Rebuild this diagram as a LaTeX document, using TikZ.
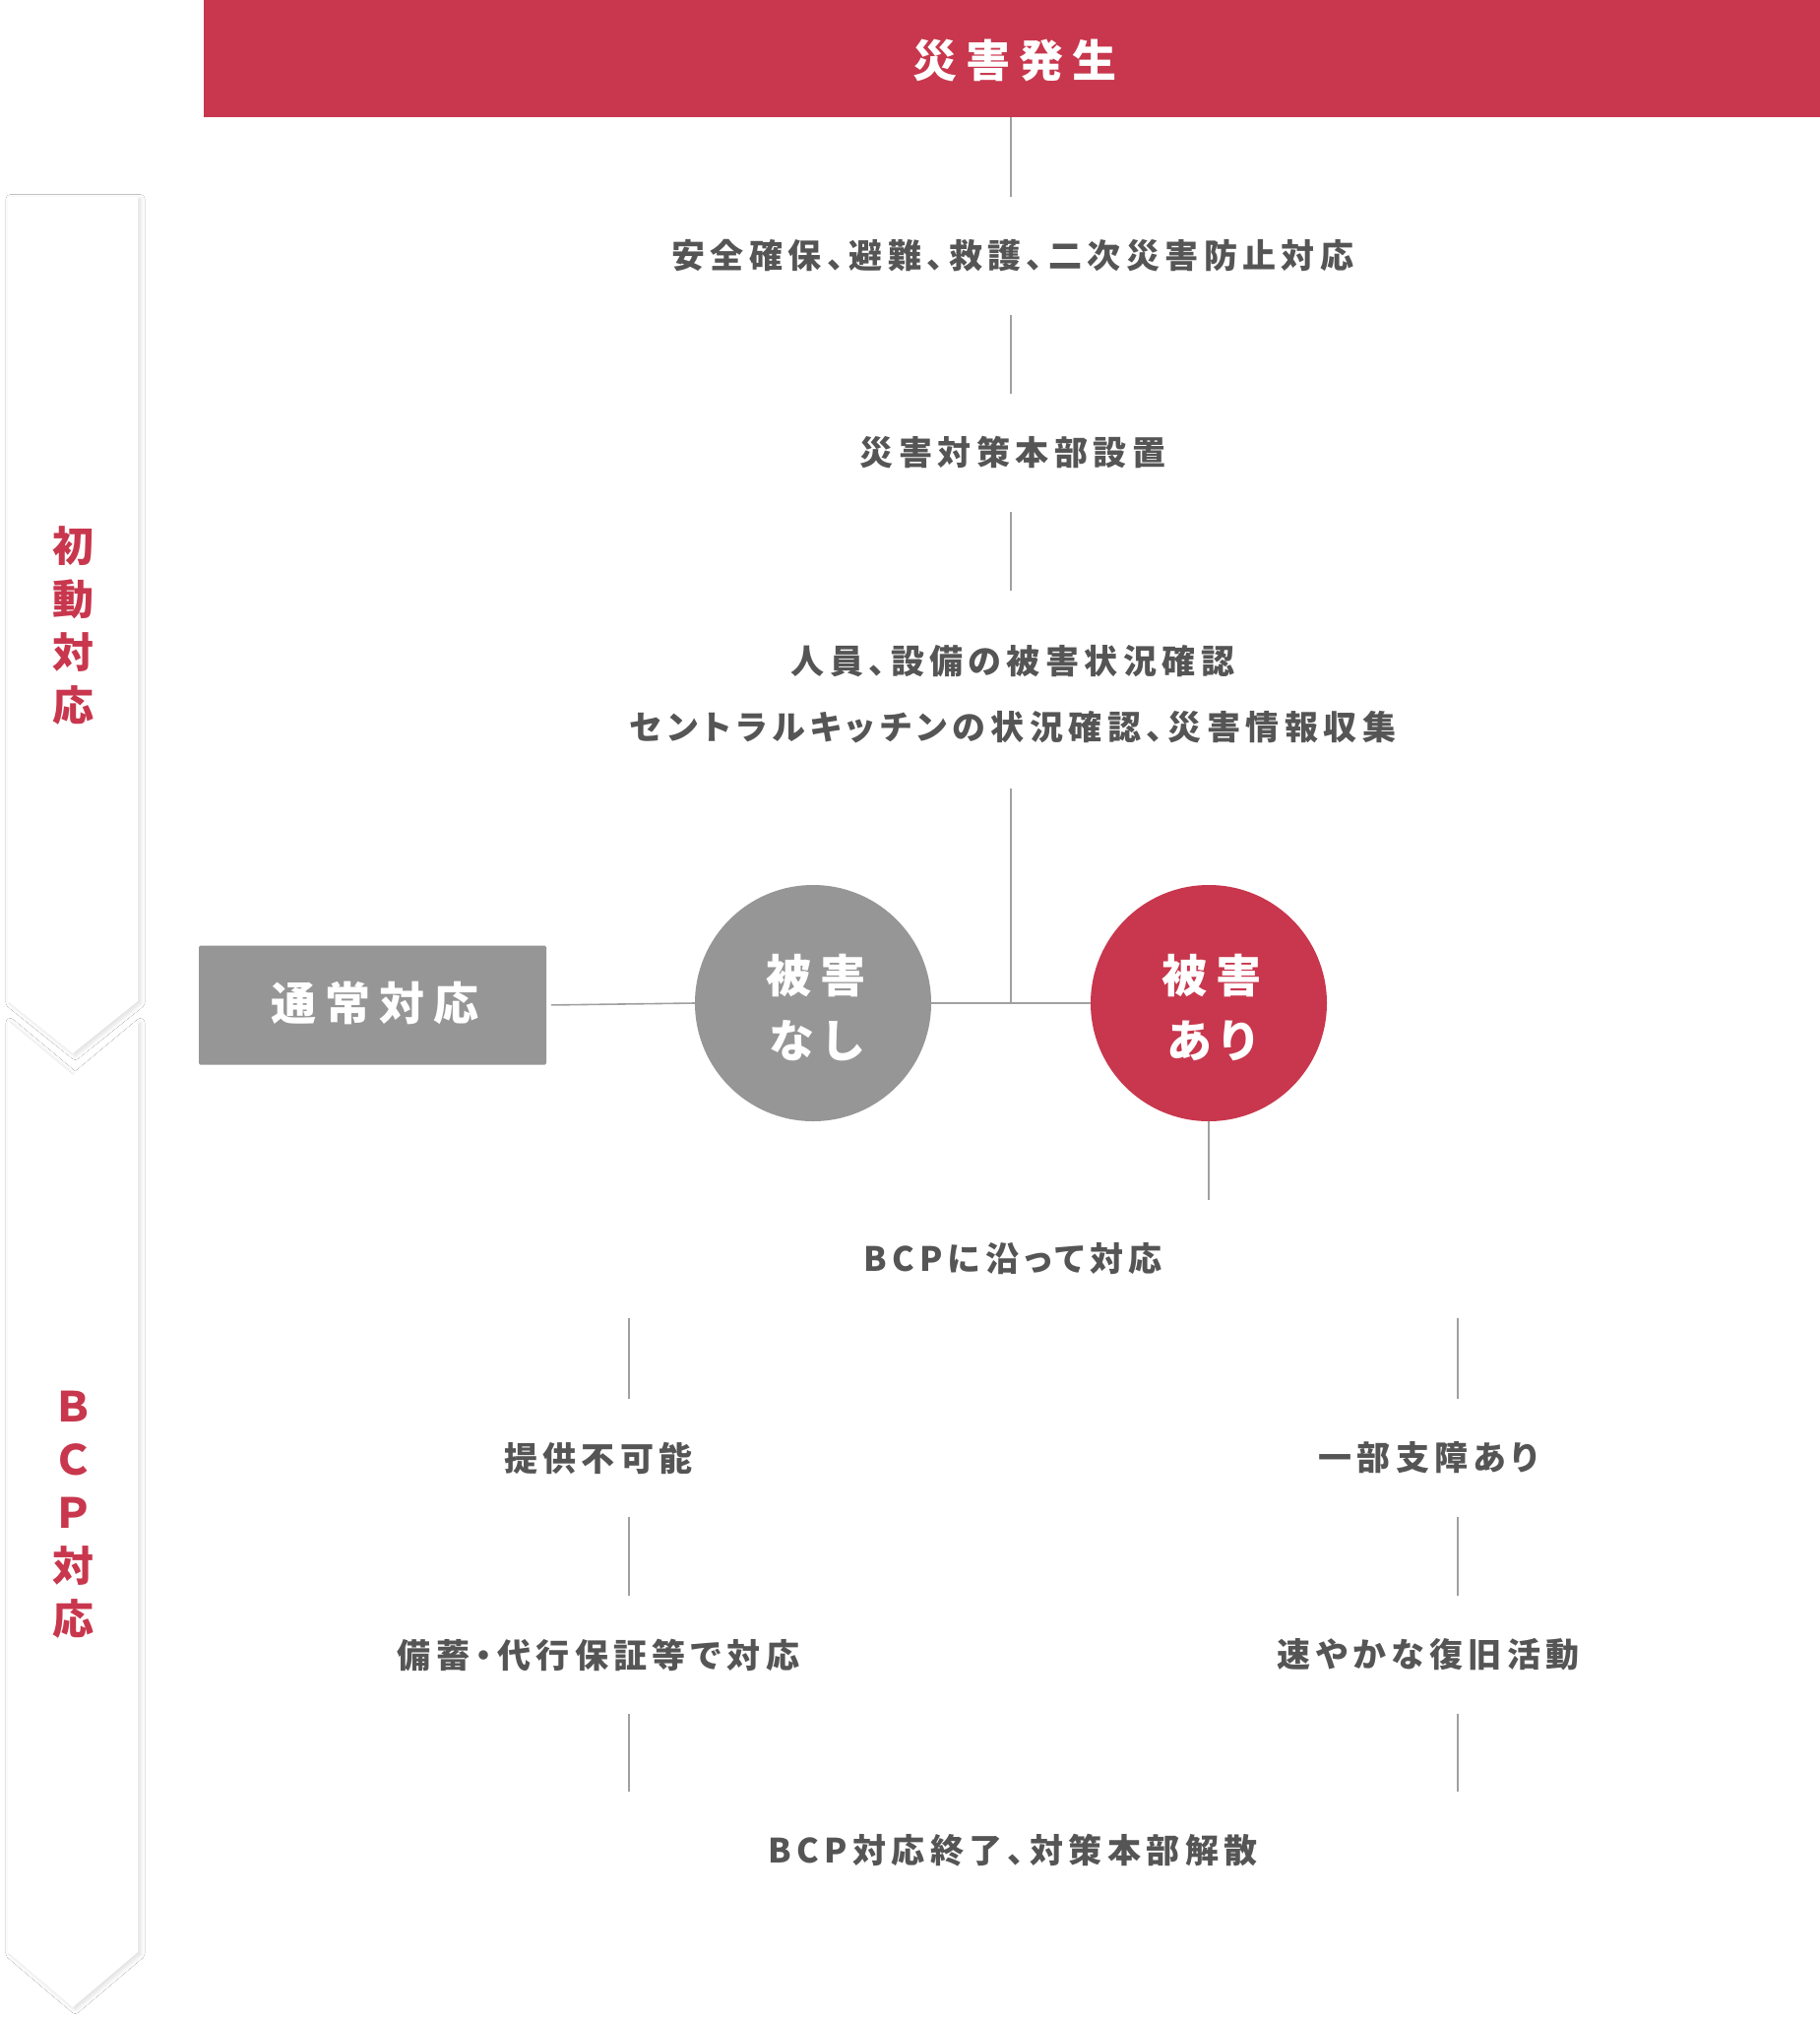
\documentclass[tikz,border=0pt]{standalone}
\usepackage{fontspec}
\newfontfamily\jp{Noto Sans CJK JP}[RawFeature=+palt, LetterSpace=16]
\newfontfamily\jpw{Noto Sans CJK JP}[RawFeature=+palt, LetterSpace=20]
\newfontfamily\jpv{Noto Sans CJK JP}
\usetikzlibrary{shadows.blur}
\definecolor{brand}{HTML}{C8374D}
\definecolor{circgray}{HTML}{959695}
\definecolor{txtgray}{HTML}{555555}
\definecolor{linegray}{HTML}{A0A0A0}
\begin{document}
\begin{tikzpicture}[x=1pt,y=-1pt,
  conn/.style={draw=linegray, line width=1.6pt},
  flowtext/.style={font=\jp\bfseries\fontsize{34}{40}\selectfont, text=txtgray, inner sep=0pt, minimum height=120pt},
  bigtext/.style={font=\jpw\bfseries\fontsize{46}{66}\selectfont, text=white, inner sep=0pt, align=center},
  circ/.style={circle, minimum size=240pt, inner sep=0pt},
  phase/.style={fill=white, blur shadow={shadow xshift=2.5pt, shadow yshift=-2pt, shadow blur radius=4.5pt, shadow blur steps=10, shadow opacity=14}},
  phasetext/.style={font=\jpv\bfseries\fontsize{42}{54}\selectfont, text=brand, inner sep=0pt, align=center}
]
\useasboundingbox (0,0) rectangle (1849,2053);
\fill[white] (0,0) rectangle (1849,2053);

% phase arrows
\path[phase] (8,1037) -- (74,1092) -- (140,1037) -- (140,1983) -- (74,2039) -- (8,1983) -- cycle;
\path[phase] (8,200) -- (140,200) -- (140,1017) -- (74,1070) -- (8,1017) -- cycle;
\node[phasetext] (ph1) at (74,635) {初\\動\\対\\応};
\node[phasetext] (ph2) at (74,1539) {Ｂ\\Ｃ\\Ｐ\\対\\応};

% top bar
\node[fill=brand, minimum width=1642pt, minimum height=119pt, inner sep=0pt, anchor=north west] (top) at (207,0) {};
\node[font=\jpw\bfseries\fontsize{45}{50}\selectfont, text=white, inner sep=0pt] (topT) at (1031,62) {災害発生};

% main texts
\node[flowtext] (t1) at (1029,260) {安全確保、避難、救護、二次災害防止対応};
\node[flowtext] (t2) at (1029,460) {災害対策本部設置};
\node[flowtext, minimum height=0pt] (t3a) at (1029,672) {人員、設備の被害状況確認};
\node[flowtext, minimum height=0pt] (t3b) at (1029,739) {セントラルキッチンの状況確認、災害情報収集};
\coordinate (t3top) at (1027,600);
\coordinate (t3bot) at (1027,801);

% decision
\node[fill=circgray, minimum width=353pt, minimum height=121pt, rounded corners=1.5pt, inner sep=0pt] (tsujo) at (378.5,1021) {};
\node[bigtext] (tsujoT) at (381,1019) {通常対応};
\node[circ, fill=circgray] (nashi) at (826,1019) {};
\node[bigtext] (nashiT) at (829,1024) {被害\\なし};
\node[circ, fill=brand] (ari) at (1228,1019) {};
\node[bigtext] (ariT) at (1231,1024) {被害\\あり};

% BCP part
\node[flowtext] (bcp) at (1029,1279) {BCPに沿って対応};
\node[flowtext] (a1) at (608,1481) {提供不可能};
\node[flowtext] (a2) at (608,1681) {備蓄・代行保証等で対応};
\node[flowtext] (b1) at (1451,1481) {一部支障あり};
\node[flowtext] (b2) at (1451,1681) {速やかな復旧活動};
\node[flowtext] (fin) at (1029,1880) {BCP対応終了、対策本部解散};
\coordinate (lx) at (639,0);
\coordinate (rx) at (1481,0);

% connectors
\draw[conn] (top.south -| t3top) -- (t1.north -| t3top);
\draw[conn] (t1.south -| t3top) -- (t2.north -| t3top);
\draw[conn] (t2.south -| t3top) -- (t3top);
\draw[conn] (t3bot) -- (t3bot |- ari.west);
\draw[conn, shorten <=5pt] (tsujo.east) -- (nashi.west);
\draw[conn] (nashi.east) -- (ari.west);
\draw[conn] (ari.south) -- (ari.south |- bcp.north);
\draw[conn] (bcp.south -| lx) -- (a1.north -| lx);
\draw[conn] (a1.south -| lx) -- (a2.north -| lx);
\draw[conn] (a2.south -| lx) -- (fin.north -| lx);
\draw[conn] (bcp.south -| rx) -- (b1.north -| rx);
\draw[conn] (b1.south -| rx) -- (b2.north -| rx);
\draw[conn] (b2.south -| rx) -- (fin.north -| rx);
\end{tikzpicture}
\end{document}
